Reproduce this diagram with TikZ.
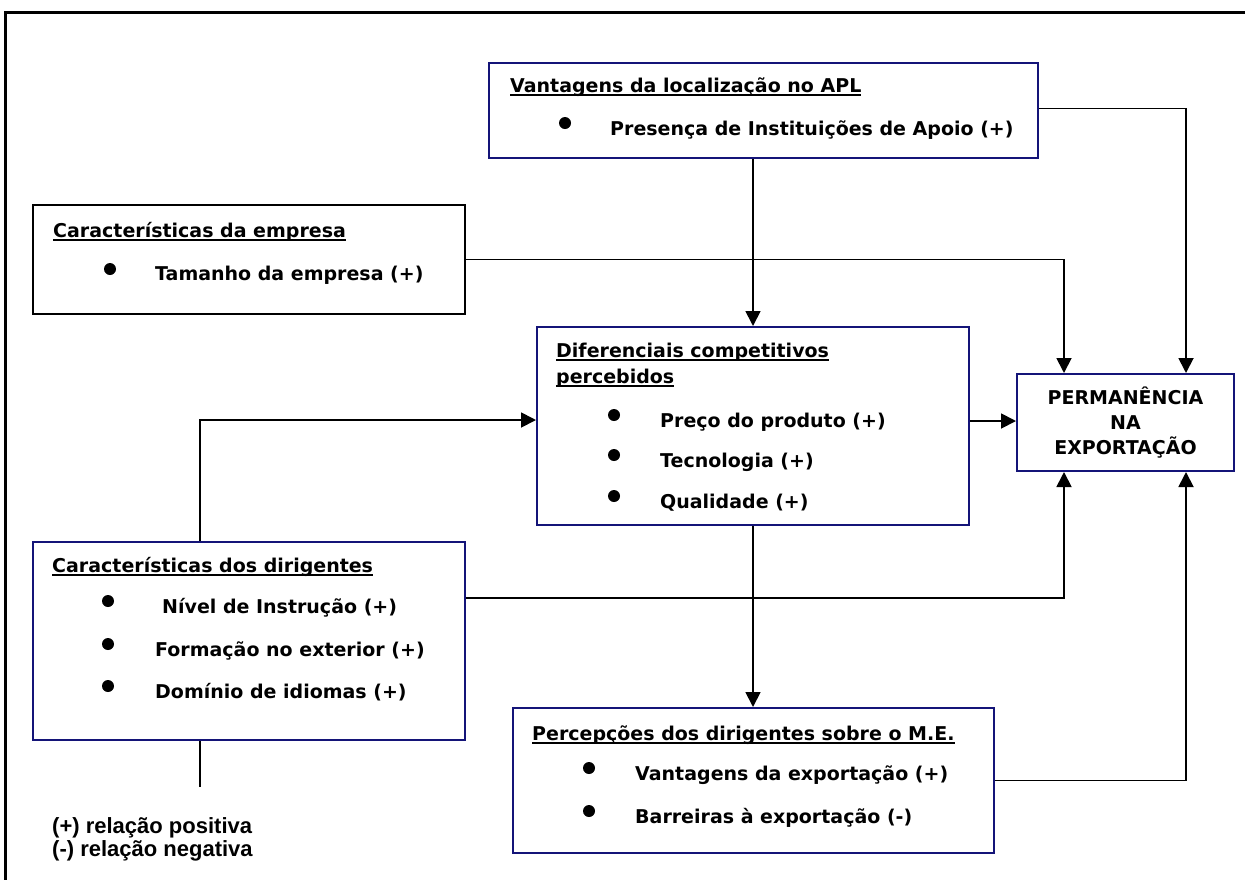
\documentclass[tikz,border=0pt]{standalone}
\usepackage{fontspec}
\setmainfont{DejaVu Sans}
\newfontfamily\legfont{Liberation Sans}
\usetikzlibrary{arrows.meta}
\definecolor{azul}{RGB}{20,20,120}
\newcommand{\sublin}[1]{\setbox0\hbox{#1}\rlap{\rule[-4pt]{\wd0}{1.8pt}}\box0}

\tikzset{
  caixa/.style={draw=azul, line width=2pt, anchor=north west, inner sep=0pt},
  txt/.style={anchor=base west, inner sep=0pt},
  leg/.style={txt, font=\legfont\bfseries\fontsize{22}{24}\selectfont},
  bola/.style={circle, fill, inner sep=0pt, minimum size=12pt},
  seta/.style={-{Triangle[length=15pt,width=15pt]}, line width=1.8pt},
  liga/.style={line width=1.8pt}
}

\begin{document}
\begin{tikzpicture}[x=1pt, y=-1pt, font=\bfseries\fontsize{19}{25}\selectfont]
\useasboundingbox (0,0) rectangle (1245,879);
\draw[line width=3pt] (5,890) -- (5,12) -- (1250,12);

\node[caixa, minimum width=549, minimum height=95] (apl) at (488,62) {};
\node[caixa, draw=black, minimum width=432, minimum height=109] (emp) at (32,204) {};
\node[caixa, minimum width=432, minimum height=198] (dif) at (536,326) {};
\node[caixa, minimum width=217, minimum height=97, align=center] (perm) at (1016,373) {PERMANÊNCIA\\NA\\EXPORTAÇÃO};
\node[caixa, minimum width=432, minimum height=198] (dir) at (32,541) {};
\node[caixa, minimum width=481, minimum height=145] (perc) at (512,707) {};

\node[txt] (aplT) at (510,92) {\sublin{Vantagens da localização no APL}};
\node[bola] (aplB) at (565,123) {};
\node[txt] (aplI) at (610,135) {Presença de Instituições de Apoio (+)};

\node[txt] (empT) at (53,237) {\sublin{Características da empresa}};
\node[bola] (empB) at (110,269) {};
\node[txt] (empI) at (155,280) {Tamanho da empresa (+)};

\node[txt] (difT1) at (556,357) {\sublin{Diferenciais competitivos}};
\node[txt] (difT2) at (556,383) {\sublin{percebidos}};
\foreach \yy/\tx [count=\i] in {427/Preço do produto (+), 467/Tecnologia (+), 508/Qualidade (+)}{
  \node[bola] (difB\i) at (614,\yy-12) {};
  \node[txt] (difI\i) at (660,\yy) {\tx};
}

\node[txt] (dirT) at (52,572) {\sublin{Características dos dirigentes}};
\foreach \xx/\yy/\tx [count=\i] in {162/613/Nível de Instrução (+), 155/656/Formação no exterior (+), 155/698/Domínio de idiomas (+)}{
  \node[bola] (dirB\i) at (108,\yy-12) {};
  \node[txt] (dirI\i) at (\xx,\yy) {\tx};
}

\node[txt] (percT) at (532,740) {\sublin{Percepções dos dirigentes sobre o M.E.}};
\foreach \yy/\tx [count=\i] in {780/Vantagens da exportação (+), 823/Barreiras à exportação (-)}{
  \node[bola] (percB\i) at (589,\yy-12) {};
  \node[txt] (percI\i) at (635,\yy) {\tx};
}

\node[leg] (leg1) at (52,833) {(+) relação positiva};
\node[leg] (leg2) at (52,856) {(-) relação negativa};

\draw[seta] (apl.south -| dif.north) -- (dif.north);
\draw[seta] ([yshift=2pt]apl.east) -| ([xshift=-49pt]perm.north east);
\draw[seta] (emp.east) -| ([xshift=48pt]perm.north west);
\draw[seta] ([yshift=5pt]dif.east) -- ([yshift=5pt]dif.east -| perm.west);
\draw[seta] ([xshift=168pt]dir.north west) |- ([yshift=6pt]dif.west);
\draw[seta] ([yshift=43pt]dir.east) -| ([xshift=48pt]perm.south west);
\draw[seta] (dif.south) -- (dif.south |- perc.north);
\draw[seta] (perc.east) -| ([xshift=-49pt]perm.south east);
\coordinate (solto) at (200,787);
\draw[liga] ([xshift=168pt]dir.south west) -- (solto);
\end{tikzpicture}
\end{document}
